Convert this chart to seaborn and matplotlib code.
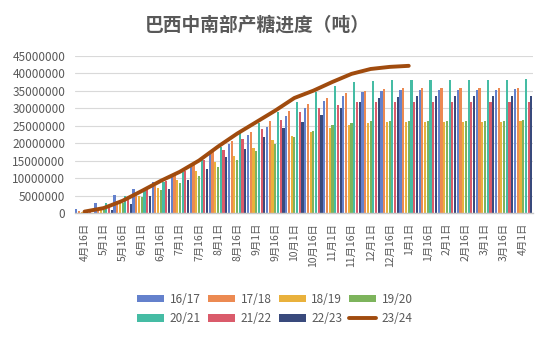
import numpy as np
import pandas as pd
import matplotlib
matplotlib.use("Agg")
import matplotlib.pyplot as plt
from matplotlib.patches import Patch
from matplotlib.lines import Line2D
from matplotlib.ticker import FuncFormatter
import seaborn as sns

# ---------------- data ----------------
dates = ['4月16日', '5月1日', '5月16日', '6月1日', '6月16日', '7月1日', '7月16日', '8月1日',
         '8月16日', '9月1日', '9月16日', '10月1日', '10月16日', '11月1日', '11月16日', '12月1日',
         '12月16日', '1月1日', '1月16日', '2月1日', '2月16日', '3月1日', '3月16日', '4月1日']

seasons = ['16/17', '17/18', '18/19', '19/20', '20/21', '21/22', '22/23']

s1617 = [1.1, 2.9, 5.1, 6.9, 8.8, 10.6, 13.4, 17.1, 19.7, 22.3, 24.7, 27.7, 30.0, 32.0, 33.5, 34.6,
         34.9, 35.2, 35.2, 35.2, 35.2, 35.2, 35.2, 35.5]
s1718 = [0.6, 1.4, 3.3, 5.4, 7.8, 10.9, 14.3, 17.7, 20.6, 23.2, 26.4, 29.2, 31.2, 32.9, 34.3, 34.9,
         35.5, 35.8, 35.8, 35.8, 35.8, 35.8, 35.8, 35.8]
s1819 = [0.2, 1.0, 3.7, 4.9, 7.2, 9.5, 12.0, 14.7, 16.3, 18.7, 20.9, 22.0, 23.3, 24.4, 25.2, 25.7,
         26.0, 26.0, 26.0, 26.0, 26.0, 26.0, 26.0, 26.3]
s1920 = [0.1, 0.8, 3.0, 4.6, 6.6, 8.7, 10.6, 13.3, 15.2, 17.7, 19.8, 21.7, 23.6, 25.2, 25.7, 26.3,
         26.3, 26.3, 26.3, 26.3, 26.3, 26.3, 26.3, 26.6]
s2021 = [0.3, 2.9, 4.8, 6.6, 9.0, 11.8, 15.4, 19.0, 22.8, 25.8, 29.0, 31.8, 34.7, 36.3, 37.5, 37.8,
         38.0, 38.0, 38.0, 38.0, 38.0, 38.0, 38.0, 38.3]
s2122 = [0.2, 2.2, 4.6, 6.9, 9.2, 12.0, 15.2, 18.1, 21.1, 24.0, 26.6, 29.0, 30.0, 30.9, 31.8, 31.8,
         31.8, 31.8, 31.8, 31.8, 31.8, 31.8, 31.8, 31.8]
s2223 = [0.1, 0.9, 2.5, 4.9, 6.9, 9.5, 12.6, 15.9, 18.3, 21.6, 24.4, 26.0, 28.0, 30.0, 31.8, 32.9,
         33.2, 33.5, 33.5, 33.5, 33.5, 33.5, 33.5, 33.5]

line_label = '23/24'
s2324 = [0.4, 1.4, 3.5, 6.3, 9.2, 11.8, 15.0, 19.0, 22.7, 26.0, 29.3, 32.9, 35.0, 37.5, 39.8,
         41.2, 41.8, 42.1]

unit = 1e6
yticks = [0, 5000000, 10000000, 15000000, 20000000, 25000000, 30000000, 35000000, 40000000, 45000000]

title = '巴西中南部产糖进度（吨）'

# ---------------- styles ----------------
bar_colors = ['#6481CC', '#EC8A52', '#E9B13C', '#7DB45C', '#45BCA4', '#DA5B6B', '#394A7C']
line_color = '#A04B0E'
text_color = '#595959'

series = [s1617, s1718, s1819, s1920, s2021, s2122, s2223]
rows = []
for name, vals in zip(seasons, series):
    for d, v in zip(dates, vals):
        rows.append({'date': d, 'season': name, 'value': v * unit})
df = pd.DataFrame(rows)

sns.set_theme(style='white')
plt.rcParams['font.family'] = ['Noto Sans CJK SC', 'DejaVu Sans']

fig = plt.figure(figsize=(5.48, 3.41), dpi=100)
ax = fig.add_axes([75 / 548, 1 - 213 / 341, (532.7 - 75) / 548, (213 - 55.7) / 341])

sns.barplot(data=df, x='date', y='value', hue='season', order=dates, hue_order=seasons,
            palette=bar_colors, width=1.0, gap=0.2, saturation=1.0, ax=ax,
            legend=False, errorbar=None, linewidth=0, zorder=2)

sns.lineplot(x=np.arange(len(s2324)), y=np.array(s2324) * unit, color=line_color,
             linewidth=2.8, ax=ax, zorder=5, solid_capstyle='round')

ax.set_xlim(-0.5, len(dates) - 0.5)
ax.set_ylim(0, 45e6)
ax.set_yticks(yticks)
ax.yaxis.set_major_formatter(FuncFormatter(lambda v, p: f'{int(v)}'))
ax.grid(axis='y', color='#D9D9D9', linewidth=0.8, zorder=0)
ax.set_axisbelow(True)
for s in ['top', 'right', 'left']:
    ax.spines[s].set_visible(False)
ax.spines['bottom'].set_color('#C9C9C9')
ax.spines['bottom'].set_linewidth(1.0)
ax.tick_params(axis='y', length=0, pad=7, labelsize=8.5, labelcolor=text_color)
ax.tick_params(axis='x', length=0, pad=7, labelsize=7.5, labelcolor=text_color)
ax.set_xticks(range(len(dates)))
ax.set_xticklabels(dates, rotation=90)
ax.set_xlabel('')
ax.set_ylabel('')

fig.text(0.47, 1 - 25 / 341, title, ha='center', va='center', fontsize=13.5,
         fontweight='bold', color=text_color)

handles = [Patch(facecolor=c, edgecolor='none') for c in bar_colors]
handles.append(Line2D([0], [0], color=line_color, linewidth=2.8))
labels = seasons + [line_label]
order = [0, 4, 1, 5, 2, 6, 3, 7]
leg = fig.legend([handles[i] for i in order], [labels[i] for i in order],
                 loc='center', bbox_to_anchor=(275 / 548, 1 - 309 / 341), ncol=4,
                 frameon=False, fontsize=8.5, handlelength=2.3, handleheight=0.6,
                 handletextpad=0.45, columnspacing=0.6, labelspacing=0.55)
for t in leg.get_texts():
    t.set_color(text_color)

fig.savefig('out.png', dpi=100)
